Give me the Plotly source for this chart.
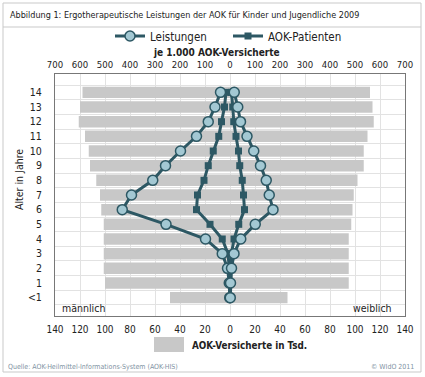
import plotly.graph_objects as go

# ---------------- data ----------------
ages = ["<1", "1", "2", "3", "4", "5", "6", "7", "8", "9", "10", "11", "12", "13", "14"]

# AOK-Versicherte in Tsd. (bottom axis)
versicherte_m = [48, 100, 101, 101, 101, 101, 103, 104, 107, 112, 113, 116, 121, 120, 118]
versicherte_w = [46, 95, 95, 95, 95, 97, 98, 99, 102, 107, 107, 110, 115, 114, 112]

# je 1.000 AOK-Versicherte (top axis)
leistungen_m = [1, 3, 10, 31, 98, 256, 431, 394, 309, 258, 198, 134, 87, 60, 38]
leistungen_w = [1, 2, 6, 16, 43, 101, 172, 157, 145, 122, 95, 68, 42, 31, 17]
patienten_m = [0.5, 1, 3, 8, 31, 80, 134, 130, 104, 87, 67, 45, 34, 22, 16]
patienten_w = [0.5, 1, 3, 6, 16, 35, 58, 54, 49, 39, 34, 24, 15, 11, 6]

bottom_ticks = list(range(-140, 141, 20))
top_ticks = list(range(-700, 701, 100))

# ---------------- style ----------------
FONT = "DejaVu Sans Condensed, DejaVu Sans, sans-serif"
DARK = "#2d5864"
LIGHT = "#a3c8d3"
BAR = "#c8c8c8"
GRID = "#e2e2e2"
TXT = "#222"
W, H = 425, 377
ML, MR, MT, MB = 55, 20, 74, 61
PW, PH = W - ML - MR, H - MT - MB


def px(xp):
    return (xp - ML) / PW


def py(yp):
    return (H - MB - yp) / PH


fig = go.Figure()

# bars (bottom axis, Tsd.)
fig.add_trace(go.Bar(y=ages, x=[-v for v in versicherte_m], orientation="h",
                     marker=dict(color=BAR, line=dict(width=0)), showlegend=False,
                     xaxis="x", yaxis="y", hoverinfo="skip"))
fig.add_trace(go.Bar(y=ages, x=versicherte_w, orientation="h",
                     marker=dict(color=BAR, line=dict(width=0)), showlegend=False,
                     xaxis="x", yaxis="y", hoverinfo="skip"))

# lines (top axis, je 1.000)
sq = dict(symbol="square", size=7, color=DARK, line=dict(width=0))
ci = dict(symbol="circle", size=10, color=LIGHT, line=dict(width=1.5, color=DARK))

fig.add_trace(go.Scatter(y=ages, x=[-v for v in patienten_m], mode="lines+markers",
                         line=dict(color=DARK, width=3), marker=sq, xaxis="x2", yaxis="y",
                         name="AOK-Patienten", legendgroup="p", showlegend=False))
fig.add_trace(go.Scatter(y=ages, x=patienten_w, mode="lines+markers",
                         line=dict(color=DARK, width=3), marker=sq, xaxis="x2", yaxis="y",
                         name="AOK-Patienten", legendgroup="p", showlegend=False))
fig.add_trace(go.Scatter(y=ages, x=[-v for v in leistungen_m], mode="lines+markers",
                         line=dict(color=DARK, width=3), marker=ci, xaxis="x2", yaxis="y",
                         name="Leistungen", legendgroup="l", showlegend=True, legendrank=1))
fig.add_trace(go.Scatter(y=ages, x=leistungen_w, mode="lines+markers",
                         line=dict(color=DARK, width=3), marker=ci, xaxis="x2", yaxis="y",
                         name="Leistungen", legendgroup="l", showlegend=False))
# legend entry for patients
fig.add_trace(go.Scatter(y=[None], x=[None], mode="lines+markers",
                         line=dict(color=DARK, width=3), marker=sq, xaxis="x2", yaxis="y",
                         name="AOK-Patienten", legendgroup="p", showlegend=True, legendrank=2))

fig.update_layout(
    width=W, height=H,
    margin=dict(l=ML, r=MR, t=MT, b=MB, autoexpand=False),
    paper_bgcolor="white", plot_bgcolor="white",
    font=dict(family=FONT, size=10, color=TXT),
    barmode="relative", bargap=0.22,
    showlegend=True,
    legend=dict(orientation="h", x=px(110), xanchor="left", y=py(36), yanchor="middle",
                font=dict(size=11.5, color=TXT), entrywidth=73, entrywidthmode="pixels",
                bgcolor="rgba(0,0,0,0)", traceorder="normal"),
    xaxis=dict(range=[-140, 140], tickvals=bottom_ticks, ticktext=[str(abs(t)) for t in bottom_ticks],
               side="bottom", showgrid=True, gridcolor=GRID, gridwidth=1, zeroline=False,
               showline=True, linecolor="#777", linewidth=1, mirror=True,
               ticks="outside", ticklen=4, tickcolor="rgba(0,0,0,0)", automargin=False,
               tickfont=dict(size=10, color=TXT)),
    xaxis2=dict(range=[-700, 700], tickvals=top_ticks, ticktext=[str(abs(t)) for t in top_ticks],
                overlaying="x", side="top", showgrid=False, zeroline=False,
                ticks="outside", ticklen=1, tickcolor="rgba(0,0,0,0)", automargin=False,
                tickfont=dict(size=9.5, color=TXT)),
    yaxis=dict(type="category", categoryorder="array", categoryarray=ages,
               tickson="boundaries", showgrid=True, gridcolor=GRID, gridwidth=1,
               showline=True, linecolor="#777", linewidth=1, mirror=True,
               ticks="", ticklabelstandoff=10, automargin=False,
               tickfont=dict(size=10.5, color=TXT)),
)

ann = [
    dict(text="Abbildung 1: Ergotherapeutische Leistungen der AOK für Kinder und Jugendliche 2009",
         x=px(8), y=py(15), xanchor="left", yanchor="middle", font=dict(size=9, color=TXT)),
    dict(text="<b>je 1.000 AOK-Versicherte</b>", x=px(216), y=py(53), xanchor="center",
         yanchor="middle", font=dict(size=10, color=TXT)),
    dict(text="Alter in Jahre", x=px(19), y=py(180), textangle=-90, xanchor="center",
         yanchor="middle", font=dict(size=10.5, color=TXT)),
    dict(text="männlich", x=px(60), y=py(308), xanchor="left", yanchor="middle",
         font=dict(size=10.5, color=TXT)),
    dict(text="weiblich", x=px(394), y=py(308), xanchor="right", yanchor="middle",
         font=dict(size=10.5, color=TXT)),
    dict(text="<b>AOK-Versicherte in Tsd.</b>", x=px(190), y=py(345), xanchor="left",
         yanchor="middle", font=dict(size=9.8, color=TXT)),
    dict(text="Quelle: AOK-Heilmittel-Informations-System (AOK-HIS)", x=px(6), y=py(367),
         xanchor="left", yanchor="middle", font=dict(size=7, color="#7f93a3")),
    dict(text="© WIdO 2011", x=px(416), y=py(367), xanchor="right", yanchor="middle",
         font=dict(size=7, color="#7f93a3")),
]
for a in ann:
    a.update(xref="paper", yref="paper", showarrow=False)
fig.update_layout(annotations=ann)

shapes = [
    # outer frame
    dict(type="rect", x0=px(3), x1=px(421), y0=py(372), y1=py(3),
         line=dict(color="#c9c9c9", width=1)),
    # title separator
    dict(type="line", x0=px(3), x1=px(421), y0=py(27), y1=py(27),
         line=dict(color="#c9c9c9", width=1)),
    # legend swatch for bars
    dict(type="rect", x0=px(154), x1=px(184), y0=py(352), y1=py(337),
         fillcolor=BAR, line=dict(width=0)),
]
for s in shapes:
    s.update(xref="paper", yref="paper", layer="above")
fig.update_layout(shapes=shapes)

fig.write_html("out.html", config={"displayModeBar": False},
               post_script="document.body.style.margin='0';document.body.style.overflow='hidden';")
